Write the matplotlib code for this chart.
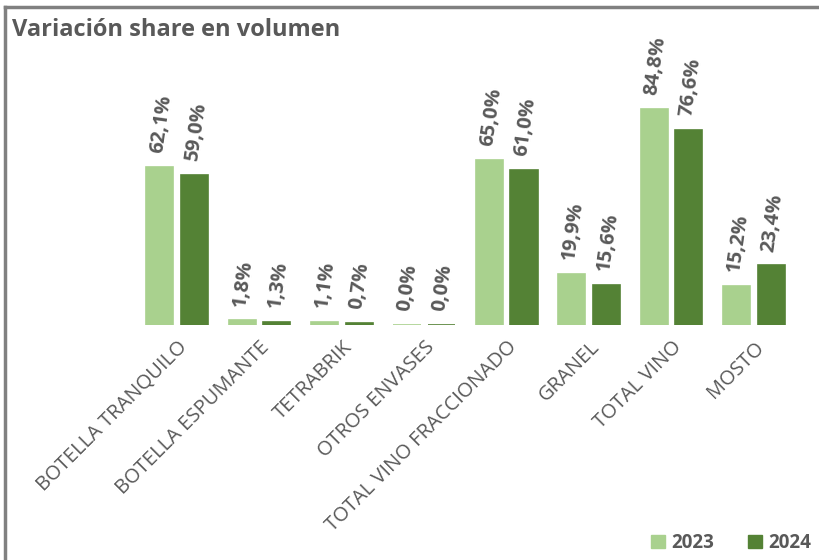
import numpy as np
import matplotlib.pyplot as plt
from matplotlib.lines import Line2D
from matplotlib.patches import Patch

plt.rcParams['font.family'] = ['Open Sans', 'DejaVu Sans']

categorias = ["BOTELLA TRANQUILO", "BOTELLA ESPUMANTE", "TETRABRIK", "OTROS ENVASES",
              "TOTAL VINO FRACCIONADO", "GRANEL", "TOTAL VINO", "MOSTO"]
v2023 = [62.1, 1.8, 1.1, 0.04, 65.0, 19.9, 84.8, 15.2]
v2024 = [59.0, 1.3, 0.7, 0.04, 61.0, 15.6, 76.6, 23.4]

c23 = '#A9D18E'
c24 = '#548235'
gris = '#595959'

fig = plt.figure(figsize=(8.19, 5.6), dpi=100)
ax = fig.add_axes([136 / 819, 1 - 325 / 560, 659 / 819, 285 / 560])

x = np.arange(len(categorias))
w = 0.33
b1 = ax.bar(x - 0.21, v2023, w, color=c23, edgecolor=c23, linewidth=1.2)
b2 = ax.bar(x + 0.21, v2024, w, color=c24, edgecolor=c24, linewidth=1.2)

for bars, vals in ((b1, v2023), (b2, v2024)):
    for r, v in zip(bars, vals):
        ax.text(r.get_x() + r.get_width() / 2 - 0.03, v + 5.5,
                f"{v:.1f}".replace('.', ',') + '%',
                rotation=82, rotation_mode='anchor', ha='left', va='center',
                fontsize=14.5, fontweight='bold', color=gris)

ax.set_xlim(-0.5, len(categorias) - 0.5)
ax.set_ylim(0, 112)
ax.set_xticks(x)
ax.set_xticklabels(categorias, rotation=45, ha='right', rotation_mode='anchor',
                   fontsize=14.5, color=gris)
ax.tick_params(axis='x', length=0, pad=9)
ax.set_yticks([])
for s in ax.spines.values():
    s.set_visible(False)

fig.text(12 / 819, 1 - 30 / 560, "Variación share en volumen", fontsize=17,
         fontweight='bold', color=gris, va='center')

# marco
fig.add_artist(Line2D([5 / 819, 1], [1 - 6.5 / 560] * 2, color='#808080', lw=2.5,
                      transform=fig.transFigure))
fig.add_artist(Line2D([5 / 819] * 2, [0, 1 - 6.5 / 560], color='#808080', lw=2.5,
                      transform=fig.transFigure))

handles = [Patch(color=c23, label='2023'), Patch(color=c24, label='2024')]
fig.legend(handles=handles, loc='center', bbox_to_anchor=(731 / 819, 1 - 543 / 560),
           ncol=2, frameon=False, handlelength=0.75, handleheight=0.75,
           handletextpad=0.35, columnspacing=1.8, labelcolor=gris,
           prop={'weight': 'bold', 'size': 13.5})

fig.savefig('out.png', dpi=100)
